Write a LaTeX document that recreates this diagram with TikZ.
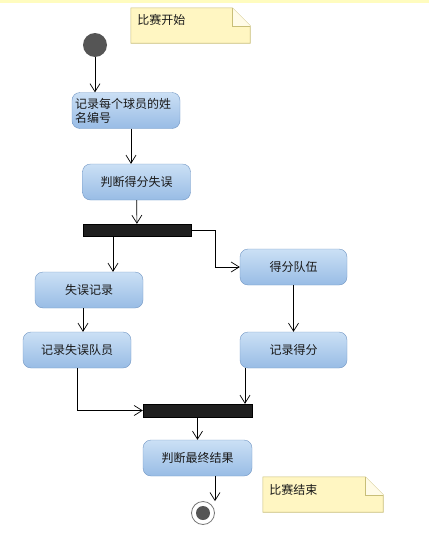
\documentclass[tikz,border=0pt]{standalone}
\usepackage{fontspec}
\usepackage{xcolor}
\newfontfamily\cjk{Noto Sans CJK SC}
\usetikzlibrary{arrows.meta, positioning, calc}
\definecolor{actTop}{HTML}{CBE0F5}
\definecolor{actBot}{HTML}{98BCE5}
\definecolor{actLine}{HTML}{7397C4}
\definecolor{noteFill}{HTML}{FFF6C2}
\definecolor{noteLine}{HTML}{C8BE78}
\definecolor{dot}{HTML}{555555}
\begin{document}
\begin{tikzpicture}[
    x=1pt, y=-1pt,
    act/.style={draw=actLine, rounded corners=8pt, top color=actTop, bottom color=actBot, minimum width=108pt, minimum height=36pt, align=center, inner sep=2pt, font=\cjk\fontsize{12}{14}\selectfont, text=black!90},
    bar/.style={draw=black, fill=black!88, minimum width=108pt, minimum height=12pt, inner sep=0pt},
    notebox/.style={minimum width=119pt, minimum height=35pt, inner sep=6pt},
    notedraw/.style={draw=noteLine, fill=noteFill, line width=0.6pt},
    arr/.style={-{Straight Barb[length=8pt, width=10pt]}, line width=0.7pt}
]
\useasboundingbox (0,0) rectangle (429,541);
\fill[yellow!25] (0,0) rectangle (429,2.5);
% start / end
\node[circle, fill=dot, minimum size=24pt, inner sep=0pt] (start) at (95,45) {};
\node[circle, draw=dot!80, fill=white, line width=0.8pt, minimum size=23pt, inner sep=0pt] (end) at (203,513) {};
\fill[dot] (end.center) circle (7pt);
% actions
\node[act, text width=102pt, align=left] (names) at (126,110.5) {记录每个球员的姓\\名编号};
\node[act] (judge) at (136.5,182) {判断得分失误};
\node[bar] (fork) at (137,230) {};
\node[act] (miss) at (89,290) {失误记录};
\node[act, minimum width=107pt] (team) at (293.5,267) {得分队伍};
\node[act] (missteam) at (77,350) {记录失误队员};
\node[act, minimum width=107pt] (score) at (293.5,350) {记录得分};
\node[bar, minimum width=109pt, minimum height=13pt] (join) at (197.5,410.5) {};
\node[act, minimum width=109pt] (final) at (197.5,458) {判断最终结果};
% notes
\node[notebox] (begin) at (190.5,25.5) {};
\draw[notedraw] (begin.north west) -- ([xshift=-18pt]begin.north east) -- ([yshift=-18pt]begin.north east) -- (begin.south east) -- (begin.south west) -- cycle;
\draw[notedraw, fill=noteFill!40] ([xshift=-18pt]begin.north east) -- ([xshift=-18pt, yshift=-18pt]begin.north east) -- ([yshift=-18pt]begin.north east);
\node[anchor=west, font=\cjk\fontsize{12}{14}\selectfont, text=black!90] (begintext) at ([xshift=3pt, yshift=-12pt]begin.north west) {比赛开始};
\node[notebox, minimum width=120pt] (finish) at (323,494.5) {};
\draw[notedraw] (finish.north west) -- ([xshift=-18pt]finish.north east) -- ([yshift=-18pt]finish.north east) -- (finish.south east) -- (finish.south west) -- cycle;
\draw[notedraw, fill=noteFill!40] ([xshift=-18pt]finish.north east) -- ([xshift=-18pt, yshift=-18pt]finish.north east) -- ([yshift=-18pt]finish.north east);
\node[anchor=west, font=\cjk\fontsize{12}{14}\selectfont, text=black!90] (finishtext) at ([xshift=3pt, yshift=-13pt]finish.north west) {比赛结束};
% flow
\draw[arr] (start.south) -- (start.south |- names.north);
\draw[arr] ([xshift=5pt]names.south) -- ([xshift=5pt]names.south |- judge.north);
\draw[arr] (judge) -- (fork);
\draw[arr] ([xshift=-24pt]fork.south) -- ([xshift=-24pt]fork.south |- miss.north);
\draw[arr] (fork.east) -- ++(24,0) |- (team.west);
\draw[arr] ([xshift=-6pt]miss.south) -- ([xshift=-6pt]miss.south |- missteam.north);
\draw[arr] (team) -- (score);
\draw[arr] (missteam.south) |- (join.west);
\draw[arr] ([xshift=-48.5pt]score.south) -- ([xshift=-48.5pt]score.south |- join.north);
\draw[arr] (join) -- (final);
\draw[arr] ([xshift=17.5pt]final.south) -- ([xshift=17.5pt]final.south |- end.north);
\end{tikzpicture}
\end{document}
